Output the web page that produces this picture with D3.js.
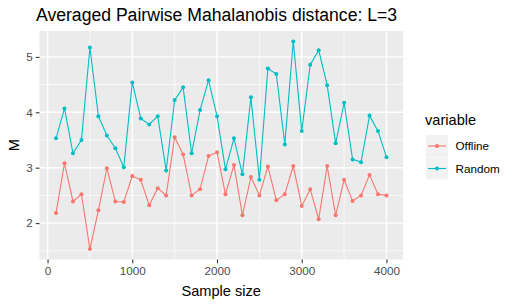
<!DOCTYPE html>
<html>
<head>
<meta charset="utf-8">
<script src="https://cdn.jsdelivr.net/npm/d3@7"></script>
<style>
  body { margin: 0; background: #fff; }
  text { font-family: "Liberation Sans", Arial, sans-serif; }
</style>
</head>
<body>
<div id="chart"></div>
<script>
/* DATA */
const sampleSizes = d3.range(1, 41).map(i => i * 100);
const offline = [2.18, 3.08, 2.39, 2.52, 1.53, 2.23, 2.99, 2.39, 2.38, 2.85,
                 2.78, 2.32, 2.63, 2.50, 3.55, 3.24, 2.50, 2.61, 3.21, 3.28,
                 2.52, 3.05, 2.14, 2.83, 2.50, 3.02, 2.41, 2.52, 3.03, 2.31,
                 2.61, 2.07, 3.03, 2.14, 2.78, 2.40, 2.50, 2.87, 2.52, 2.50];
const random = [3.53, 4.07, 3.26, 3.50, 5.17, 3.93, 3.58, 3.35, 3.01, 4.54,
                3.89, 3.78, 3.93, 2.95, 4.22, 4.45, 3.26, 4.04, 4.58, 3.93,
                2.97, 3.53, 2.88, 4.27, 2.78, 4.79, 4.69, 3.42, 5.28, 3.66,
                4.86, 5.12, 4.49, 3.44, 4.17, 3.15, 3.10, 3.94, 3.66, 3.19];
const seriesNames = ["Offline", "Random"];
const seriesColors = ["#F8766D", "#00BFC4"];
const xTicks = [0, 1000, 2000, 3000, 4000];
const yTicks = [2, 3, 4, 5];

/* LAYOUT */
const width = 518, height = 306;
const panel = { left: 39.5, right: 403, top: 31, bottom: 259.5 };

const svg = d3.select("#chart").append("svg")
  .attr("width", width)
  .attr("height", height);

const series = seriesNames.map((name, i) => ({
  name,
  color: seriesColors[i],
  values: sampleSizes.map((s, j) => ({ x: s, y: [offline, random][i][j] }))
}));

// ggplot-like 5% expansion
const xExt = d3.extent(sampleSizes);
const yExt = d3.extent(offline.concat(random));
const xPad = (xExt[1] - xExt[0]) * 0.05, yPad = (yExt[1] - yExt[0]) * 0.05;

const x = d3.scaleLinear()
  .domain([xExt[0] - xPad, xExt[1] + xPad])
  .range([panel.left, panel.right]);
const y = d3.scaleLinear()
  .domain([yExt[0] - yPad, yExt[1] + yPad])
  .range([panel.bottom, panel.top]);

// panel background
svg.append("rect")
  .attr("x", panel.left).attr("y", panel.top)
  .attr("width", panel.right - panel.left)
  .attr("height", panel.bottom - panel.top)
  .attr("fill", "#EBEBEB");

// minor grid
const xMinor = [500, 1500, 2500, 3500];
const yMinor = [1.5, 2.5, 3.5, 4.5].filter(v => v > y.domain()[0] && v < y.domain()[1]);
const grid = svg.append("g");
grid.selectAll(".xminor").data(xMinor).join("line")
  .attr("x1", d => x(d)).attr("x2", d => x(d))
  .attr("y1", panel.top).attr("y2", panel.bottom)
  .attr("stroke", "#fff").attr("stroke-width", 0.7);
grid.selectAll(".yminor").data(yMinor).join("line")
  .attr("y1", d => y(d)).attr("y2", d => y(d))
  .attr("x1", panel.left).attr("x2", panel.right)
  .attr("stroke", "#fff").attr("stroke-width", 0.7);
// major grid
grid.selectAll(".xmajor").data(xTicks).join("line")
  .attr("x1", d => x(d)).attr("x2", d => x(d))
  .attr("y1", panel.top).attr("y2", panel.bottom)
  .attr("stroke", "#fff").attr("stroke-width", 1.4);
grid.selectAll(".ymajor").data(yTicks).join("line")
  .attr("y1", d => y(d)).attr("y2", d => y(d))
  .attr("x1", panel.left).attr("x2", panel.right)
  .attr("stroke", "#fff").attr("stroke-width", 1.4);

// axes
const xAxis = svg.append("g")
  .attr("transform", `translate(0,${panel.bottom})`)
  .call(d3.axisBottom(x).tickValues(xTicks).tickSize(3.7).tickPadding(3).tickFormat(d3.format("d")));
const yAxis = svg.append("g")
  .attr("transform", `translate(${panel.left},0)`)
  .call(d3.axisLeft(y).tickValues(yTicks).tickSize(3.7).tickPadding(3).tickFormat(d3.format("d")));
[xAxis, yAxis].forEach(a => {
  a.select(".domain").remove();
  a.selectAll(".tick line").attr("stroke", "#333333").attr("stroke-width", 1.1);
  a.selectAll(".tick text")
    .attr("fill", "#4D4D4D")
    .style("font-size", "11.7px")
    .style("font-family", "'Liberation Sans', Arial, sans-serif");
});

// lines and points
const line = d3.line().x(d => x(d.x)).y(d => y(d.y));
const g = svg.append("g");
series.forEach(s => {
  g.append("path")
    .datum(s.values)
    .attr("fill", "none")
    .attr("stroke", s.color)
    .attr("stroke-width", 1.1)
    .attr("d", line);
  g.selectAll(null).data(s.values).join("circle")
    .attr("cx", d => x(d.x))
    .attr("cy", d => y(d.y))
    .attr("r", 2)
    .attr("fill", s.color);
});

// titles
svg.append("text")
  .attr("x", 36).attr("y", 20.5)
  .style("font-size", "17.6px")
  .attr("fill", "#000")
  .text("Averaged Pairwise Mahalanobis distance: L=3");

svg.append("text")
  .attr("x", (panel.left + panel.right) / 2).attr("y", 296)
  .attr("text-anchor", "middle")
  .style("font-size", "14.6px")
  .text("Sample size");

svg.append("text")
  .attr("transform", `translate(19,${(panel.top + panel.bottom) / 2}) rotate(-90)`)
  .attr("text-anchor", "middle")
  .style("font-size", "14.6px")
  .text("M");

// legend
const legend = svg.append("g").attr("transform", "translate(425,0)");
legend.append("text")
  .attr("x", 0).attr("y", 125)
  .style("font-size", "14.6px")
  .text("variable");
const keys = legend.selectAll(".key").data(series).join("g")
  .attr("transform", (d, i) => `translate(1,${135 + i * 22.5})`);
keys.append("rect")
  .attr("width", 22).attr("height", 22)
  .attr("fill", "#F2F2F2");
keys.append("line")
  .attr("x1", 2).attr("x2", 20).attr("y1", 11).attr("y2", 11)
  .attr("stroke", d => d.color).attr("stroke-width", 1.1);
keys.append("circle")
  .attr("cx", 11).attr("cy", 11).attr("r", 2)
  .attr("fill", d => d.color);
keys.append("text")
  .attr("x", 29.5).attr("y", 11).attr("dy", "0.35em")
  .style("font-size", "11.7px")
  .text(d => d.name);
</script>
</body>
</html>
